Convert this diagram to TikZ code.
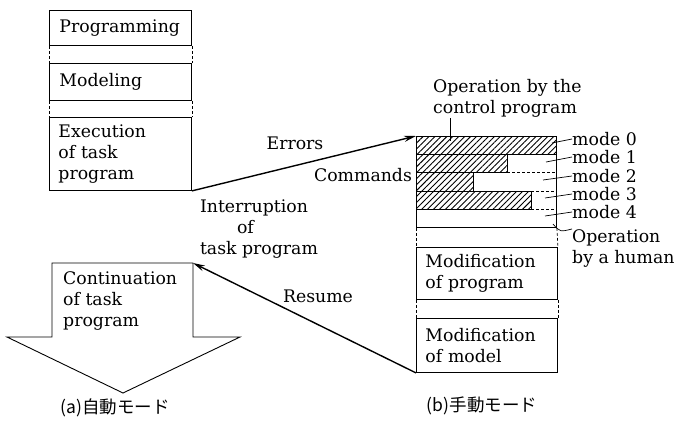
\documentclass[tikz,border=0pt]{standalone}
\usepackage{fontspec}
\setmainfont{DejaVu Serif}
\newfontfamily\jpfont{Noto Sans CJK JP}
\usetikzlibrary{patterns.meta,arrows.meta}
\begin{document}
\begin{tikzpicture}[x=1pt,y=-1pt,
  font=\fontsize{17.3}{21}\selectfont,
  box/.style={draw, line width=0.9pt, anchor=north west, minimum width=141pt,
    text width=124pt, inner xsep=9pt, inner ysep=0pt, align=left},
  dashline/.style={line width=0.6pt, dash pattern=on 3pt off 2pt},
  conn/.style={line width=1.4pt, -{Stealth[length=12pt,width=6pt]}},
  leader/.style={line width=0.7pt},
  hatch/.style={pattern={Lines[angle=45,distance=4.2pt,line width=0.9pt]}},
  lbl/.style={inner sep=0pt},
  jp/.style={inner sep=0pt, font=\jpfont\fontsize{17.5}{20}\selectfont}]
\useasboundingbox (0,0) rectangle (674,423);

% left column
\node[box, minimum height=35pt] (prog) at (49,10) {\hspace*{1pt}Programming};
\node[box, minimum height=37pt] (model) at (49,63) {\hspace*{1pt}Modeling};
\node[box, minimum height=73pt] (exec) at (49,117) {Execution\\of task\\program};
\draw[dashline] (prog.south west) -- (model.north west);
\draw[dashline] (prog.south east) -- (model.north east);
\draw[dashline] (model.south west) -- (exec.north west);
\draw[dashline] (model.south east) -- (exec.north east);

% continuation arrow
\draw[line width=0.9pt] (52,337) -- (52,263) -- (193,263) -- (193,337) -- (240,337)
  -- (123,393) -- (7,337) -- cycle;
\coordinate (contTR) at (193,263);
\node[lbl, align=left, anchor=north west] (cont) at (63,271) {Continuation\\of task\\program};

% right panel
\node[draw, line width=0.9pt, anchor=north west, minimum width=140pt, minimum height=91pt, inner sep=0pt] (panel) at (416,136) {};
\filldraw[hatch, line width=0.9pt] (416,136) rectangle (556,154);
\filldraw[hatch, line width=0.9pt] (416,154) rectangle (507,172);
\filldraw[hatch, line width=0.9pt] (416,172) rectangle (473,191);
\filldraw[hatch, line width=0.9pt] (416,191) rectangle (531,209);
\draw[dashline] (507,172) -- (556,172);
\draw[dashline] (531,191) -- (556,191);
\draw[dashline] (531,209) -- (556,209);

\node[box, minimum width=140pt, text width=123pt, minimum height=52pt] (modprog) at (416,247) {Modification\\of program};
\node[box, minimum width=140pt, text width=123pt, minimum height=54pt] (modmodel) at (416,318) {Modification\\of model};
\draw[dashline] (panel.south west) -- (modprog.north west);
\draw[dashline] (panel.south east) -- (modprog.north east);
\draw[dashline] (modprog.south west) -- (modmodel.north west);
\draw[dashline] (modprog.south east) -- (modmodel.north east);

% connectors
\draw[conn] (exec.south east) -- (panel.north west);
\draw[conn] (modmodel.south west) -- (contTR);

% labels
\node[lbl] (errors) at (295,143) {Errors};
\node[lbl] (commands) at (363,175) {Commands};
\node[lbl, align=left] (interrupt) at (259,229) {Interruption\\\hspace*{37pt}of\\task program};
\node[lbl] (resume) at (318,296) {Resume};
\node[lbl, align=left, anchor=west] (opctrl) at (433,98) {Operation by the\\control program};
\draw[leader] (450,118) -- (450,141);

\node[lbl, anchor=west] (m0) at (572,139) {mode 0};
\node[lbl, anchor=west] (m1) at (572,157) {mode 1};
\node[lbl, anchor=west] (m2) at (572,176) {mode 2};
\node[lbl, anchor=west] (m3) at (572,194) {mode 3};
\node[lbl, anchor=west] (m4) at (572,212) {mode 4};
\node[lbl, align=left, anchor=west] (ophuman) at (572,248) {Operation\\by a human};
\draw[leader] (552,143) -- (m0.west);
\draw[leader] (546,162) -- (m1.west);
\draw[leader] (543,180) -- (m2.west);
\draw[leader] (545,198) -- (m3.west);
\draw[leader] (545,216) -- (m4.west);
\draw[leader] (553,224) .. controls (560,232) .. (ophuman.north west);

\node[jp] (capa) at (115,408) {(a)自動モード};
\node[jp] (capb) at (482,406) {(b)手動モード};
\end{tikzpicture}
\end{document}
